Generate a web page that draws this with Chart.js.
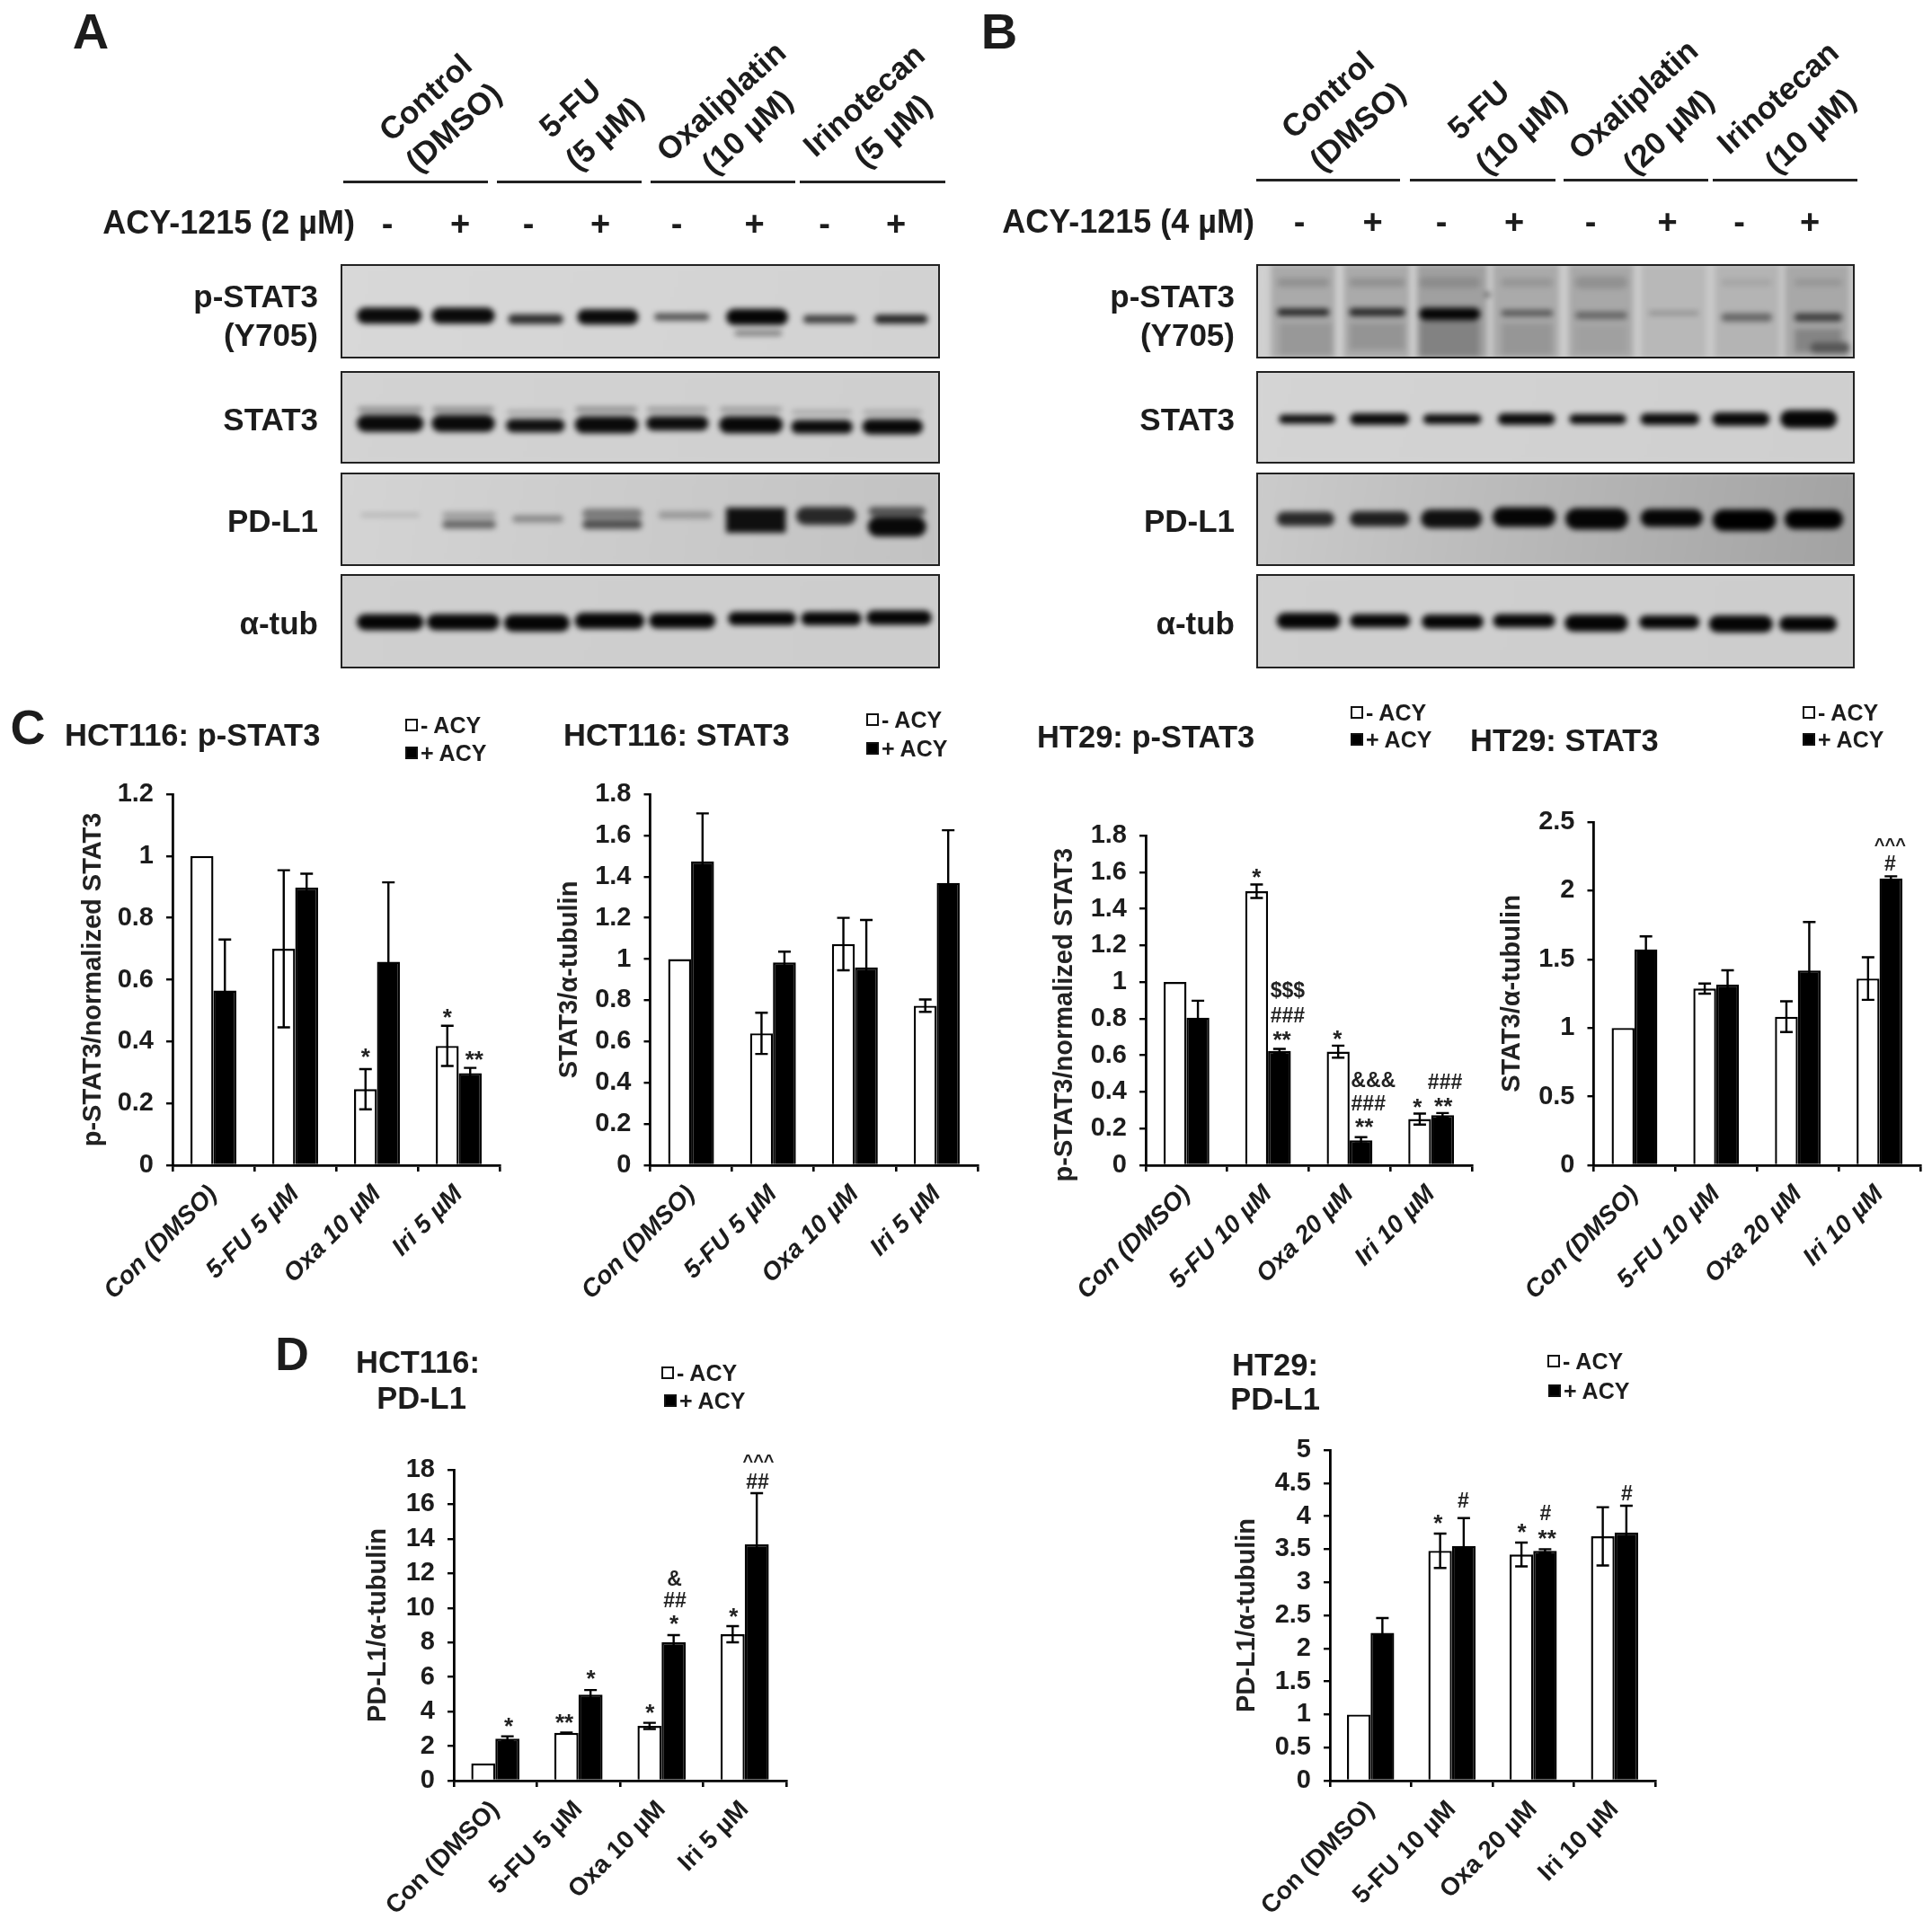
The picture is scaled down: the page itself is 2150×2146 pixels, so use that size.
<!DOCTYPE html>
<html><head><meta charset="utf-8">
<script src="https://cdn.jsdelivr.net/npm/chart.js@4"></script>
<style>
html,body{margin:0;padding:0;background:#fff}
#root{position:relative;width:2150px;height:2146px;overflow:hidden;font-family:"Liberation Sans",Arial,sans-serif;font-weight:bold;color:#1c1c1c;filter:blur(0.55px)}
canvas{position:absolute}
.t{position:absolute;white-space:pre;line-height:1}
.rule{position:absolute;background:#222;height:3px}
.sq{position:absolute;width:14px;height:14px;border:2.5px solid #111;box-sizing:border-box;background:#fff}
.sq.k{background:#000}
.mem{position:absolute;overflow:hidden}
.mem canvas{left:0;top:0;filter:blur(3px)}
.mem i{position:absolute;inset:0;border:2.6px solid #222;display:block}
</style></head><body><div id="root"></div>
<script>
/* ---------- bar chart data ---------- */
const catsC5 = ['Con (DMSO)','5-FU 5 µM','Oxa 10 µM','Iri 5 µM'];
const catsC10 = ['Con (DMSO)','5-FU 10 µM','Oxa 20 µM','Iri 10 µM'];

const c1Minus = [1,0.70,0.246,0.386];   const c1MinusErr = [0,0.254,0.065,0.065];
const c1Plus  = [0.565,0.898,0.658,0.298]; const c1PlusErr = [0.165,0.045,0.257,0.017];
const c1Ann = [[1.86,0.363,'*'],[2.86,0.49,'*'],[3.19,0.354,'**']];

const c2Minus = [1,0.64,1.073,0.774];   const c2MinusErr = [0,0.10,0.127,0.03];
const c2Plus  = [1.474,0.984,0.96,1.37]; const c2PlusErr = [0.233,0.052,0.23,0.255];

const c3Minus = [1,1.496,0.62,0.252];   const c3MinusErr = [0,0.037,0.033,0.03];
const c3Plus  = [0.806,0.624,0.136,0.274]; const c3PlusErr = [0.092,0.011,0.017,0.011];
const c3Ann = [[0.86,1.594,'*'],[1.24,0.957,'$$$'],[1.24,0.821,'###'],[1.17,0.707,'**'],[1.85,0.712,'*'],
  [2.29,0.466,'&&&'],[2.23,0.339,'###'],[2.18,0.23,'**'],[2.83,0.339,'*'],[3.17,0.46,'###'],[3.15,0.344,'**']];

const c4Minus = [1,1.287,1.082,1.36];   const c4MinusErr = [0,0.037,0.112,0.155];
const c4Plus  = [1.573,1.316,1.418,2.09]; const c4PlusErr = [0.094,0.104,0.354,0.015];
const c4Ann = [[3.13,2.35,'^^^'],[3.13,2.2,'#']];

const d1Minus = [1,2.77,3.17,8.48];     const d1MinusErr = [0,0.02,0.18,0.47];
const d1Plus  = [2.43,4.98,8.01,13.68]; const d1PlusErr = [0.14,0.27,0.42,2.97];
const d1Ann = [[0.16,3.37,'*'],[0.83,3.6,'**'],[1.15,6.13,'*'],[1.86,4.14,'*'],[2.155,11.73,'&'],[2.16,10.47,'##'],
  [2.15,9.3,'*'],[2.865,9.74,'*'],[3.165,18.64,'^^^'],[3.155,17.36,'##']];

const d2Minus = [1,3.476,3.42,3.695];   const d2MinusErr = [0,0.26,0.18,0.44];
const d2Plus  = [2.234,3.55,3.476,3.753]; const d2PlusErr = [0.226,0.42,0.024,0.404];
const d2Ann = [[0.83,3.955,'*'],[1.14,4.24,'#'],[1.86,3.82,'*'],[2.15,4.05,'#'],[2.17,3.72,'**'],[3.15,4.36,'#']];

/* ---------- blot bands: [from, to, position, thickness, grey density] on a 1026 x 216 membrane ---------- */
const aPhospho = [[675,755,158,6,125],[30,137,118,18,10],[158,262,118,18,10],[288,380,126,11,45],[407,508,121,17,10],[538,630,121,8,80],[662,764,121,18,5],[793,882,126,9,60],[915,1004,126,10,35]];
const aStat3 = [[30,140,89,6,140],[158,262,89,6,140],[285,382,95,4,155],[403,507,89,6,140],[525,628,89,5,145],[650,755,89,5,145],[773,875,95,4,155],[895,995,95,4,155],
  [30,140,121,19,10],[158,262,121,19,10],[285,382,126,15,15],[403,507,124,19,10],[525,628,121,16,12],[650,755,124,19,8],[773,875,129,15,10],[895,995,129,17,8]];
const aPdl1 = [[35,135,98,4,175],[175,265,98,7,155],[295,380,107,8,135],[415,515,95,11,120],[545,635,98,8,150],[905,1000,90,10,80],[175,265,120,9,100],[415,515,120,10,75],[660,762,110,28,15],[782,880,100,20,40],[905,1000,125,22,8]];
const aTub = [[30,140,110,18,5],[150,270,110,18,5],[282,390,112,19,5],[403,518,107,18,5],[530,640,107,17,5],[665,778,102,15,5],[790,890,102,15,5],[902,1010,100,16,5]];

const bSmear = [[25,135,108,105,170],[150,262,108,105,170],[275,395,108,105,160],[405,518,108,105,170],[535,645,108,105,168],[660,770,108,105,184],[785,895,108,105,180],[905,1015,108,105,168]];
const bPhospho = [[37,124,42,10,145],[160,254,42,10,145],[280,382,42,12,140],[420,507,42,10,150],[547,634,42,14,145],[797,882,42,8,165],[922,1002,42,8,150],
  [280,382,172,40,130],[420,507,172,36,150],[40,130,172,36,152],[160,254,165,30,148],[547,634,172,30,160],[922,1002,175,26,132],[950,1015,192,12,85],
  [37,124,110,8,35],[160,254,110,9,40],[280,382,114,14,5],[420,507,112,7,85],[547,634,117,8,100],[672,757,112,4,135],[797,882,122,9,100],[922,1002,122,9,60],[392,400,70,4,50]];
const bStat3 = [[40,134,111,10,10],[162,260,111,13,10],[287,384,111,11,10],[415,510,111,13,10],[537,632,111,11,10],[659,757,111,13,10],[782,877,111,15,8],[899,992,111,20,5]];
const bPdl1 = [[37,132,107,16,40],[162,260,107,17,30],[284,384,107,21,15],[407,510,103,22,5],[532,634,107,24,5],[660,762,105,20,5],[784,887,110,24,0],[907,1002,108,22,0]];
const bTub = [[37,142,107,18,5],[162,262,107,15,5],[285,387,109,16,5],[407,510,107,15,5],[530,634,112,19,5],[657,757,110,15,5],[777,882,114,19,5],[897,992,114,17,5]];

/* ---------- helpers ---------- */
const root = document.getElementById('root');
const FONT = '"Liberation Sans"';
function text(s,x,y,size,opt={}){
  const d=document.createElement('div');d.className='t';d.textContent=s;
  const a=opt.align||'center';
  const tx=a==='left'?'0':a==='right'?'-100%':'-50%';
  d.style.cssText=`left:${x}px;top:${y}px;font-size:${size}px;transform:translate(${tx},-50%) rotate(${opt.rot||0}deg)`;
  root.appendChild(d);
}
function rule(x0,x1,y){const d=document.createElement('div');d.className='rule';d.style.cssText=`left:${x0}px;width:${x1-x0}px;top:${y-1.5}px`;root.appendChild(d);}
function square(x,y,k,s=14){const d=document.createElement('div');d.className='sq'+(k?' k':'');d.style.cssText=`left:${x}px;top:${y-s/2}px;width:${s}px;height:${s}px`;root.appendChild(d);}

const errorPlugin={id:'errs',afterDatasetsDraw(ch,_,o){
  const ctx=ch.ctx,y=ch.scales.y,x=ch.scales.x;
  ctx.save();ctx.lineWidth=2.4;ctx.strokeStyle='#000';
  ch.data.datasets.forEach((ds,di)=>{
    ch.getDatasetMeta(di).data.forEach((b,i)=>{
      const e=ds.err[i];if(!e)return;
      const v=ds.data[i],hi=y.getPixelForValue(v+e),lo=y.getPixelForValue(v-e);
      ctx.beginPath();ctx.moveTo(b.x,hi);ctx.lineTo(b.x,lo);
      ctx.moveTo(b.x-7,hi);ctx.lineTo(b.x+7,hi);ctx.moveTo(b.x-7,lo);ctx.lineTo(b.x+7,lo);ctx.stroke();
    });
  });
  ctx.fillStyle='#222';
  (o.ann||[]).forEach(([c,v,s])=>{
    ctx.font=`bold ${s[0]==='^'?20:s[0]==='*'?26:23}px ${FONT}`;
    ctx.textAlign='center';ctx.textBaseline='alphabetic';
    const m=ctx.measureText(s);
    ctx.fillText(s,x.getPixelForValue(c),y.getPixelForValue(v)+(m.actualBoundingBoxAscent-m.actualBoundingBoxDescent)/2);
  });
  ctx.restore();
}};

function barChart(cfg){
  const [L,T,R,B]=cfg.plot, ys=29, padT=70, padR=14, xh=190;
  const yw=L-cfg.titleX+ys/2+2;
  const c=document.createElement('canvas');
  const w=Math.round(R-L+yw+padR), h=Math.round(B-T+xh+padT);
  c.width=w;c.height=h;c.style.left=(L-yw)+'px';c.style.top=(T-padT)+'px';
  root.appendChild(c);
  const zero=s=>{s.paddingLeft=s.paddingRight=s.paddingTop=s.paddingBottom=0;};
  new Chart(c,{type:'bar',plugins:[errorPlugin],
    data:{labels:cfg.labels,datasets:[
      {label:'- ACY',data:cfg.minus,err:cfg.minusErr,backgroundColor:'#fff',borderColor:'#000',borderWidth:2.4},
      {label:'+ ACY',data:cfg.plus,err:cfg.plusErr,backgroundColor:'#000',borderColor:'#000',borderWidth:2.4}]},
    options:{responsive:false,animation:false,devicePixelRatio:1,
      layout:{padding:{top:padT,right:padR,left:0,bottom:0}},
      datasets:{bar:{categoryPercentage:cfg.cat,barPercentage:1}},
      plugins:{legend:{display:false},tooltip:{enabled:false},errs:{ann:cfg.ann}},
      scales:{
        x:{grid:{drawOnChartArea:false,color:'#000',lineWidth:2.6,tickLength:7},border:{color:'#000',width:2.8},
           afterFit(s){s.height=xh;zero(s);},
           ticks:{autoSkip:false,minRotation:45,maxRotation:45,color:'#1c1c1c',padding:9,
             font:{family:FONT,weight:'bold',size:28,style:cfg.italic?'italic':'normal'}}},
        y:{min:0,max:cfg.max,grid:{drawOnChartArea:false,color:'#000',lineWidth:2.4,tickLength:7},border:{color:'#000',width:2.8},
           afterFit(s){s.width=yw;zero(s);},
           title:{display:true,text:cfg.yTitle,color:'#222',padding:0,font:{family:FONT,weight:'bold',size:ys,lineHeight:1}},
           ticks:{autoSkip:false,stepSize:cfg.step,color:'#1c1c1c',padding:14,font:{family:FONT,weight:'bold',size:29},
             callback:v=>String(parseFloat(v.toFixed(2)))}}}
    }});
}

const bandPlugin={id:'bands',
  beforeDraw(ch,_,o){const a=ch.chartArea,ctx=ch.ctx,g=ctx.createLinearGradient(a.left,a.top,a.right,a.bottom);
    g.addColorStop(0,o.bg[0]);g.addColorStop(1,o.bg[1]);ctx.fillStyle=g;ctx.fillRect(a.left,a.top,a.right-a.left,a.bottom-a.top);}
};
function blot(x0,y0,x1,y1,bands,bg){
  const wrap=document.createElement('div');wrap.className='mem';
  wrap.style.cssText=`left:${x0}px;top:${y0}px;width:${x1-x0}px;height:${y1-y0}px;background:${bg[0]}`;
  const c=document.createElement('canvas');c.width=Math.round(x1-x0);c.height=Math.round(y1-y0);
  wrap.appendChild(c);wrap.appendChild(document.createElement('i'));root.appendChild(wrap);
  /* round caps add half the line thickness at each end: pull the ends in by that amount (px to membrane units) */
  const unit=1026/(x1-x0);
  /* Chart.js paints the first dataset last, so the list is reversed to keep later bands on top */
  new Chart(c,{type:'scatter',plugins:[bandPlugin],
    data:{datasets:bands.map(([a,b,y,t,g])=>{
      const soft=t>=25, ins=soft?0:t/2*unit*0.85;
      return {data:[{x:a+ins,y},{x:b-ins,y}],showLine:true,borderColor:`rgb(${g},${g},${g})`,borderWidth:t,borderCapStyle:soft?'butt':'round',pointRadius:0,tension:0};
    }).reverse()},
    options:{responsive:false,animation:false,devicePixelRatio:1,layout:{padding:0},
      plugins:{legend:{display:false},tooltip:{enabled:false},bands:{bg}},
      scales:{x:{display:false,min:0,max:1026},y:{display:false,min:0,max:216,reverse:true}}}});
}

/* ---------- panels A and B ---------- */
const rowsY=[[294,399],[412.5,516],[526,630],[639,743.5]];
const ax0=379,ax1=1046,bx0=1397.5,bx1=2064;
blot(ax0,rowsY[0][0],ax1,rowsY[0][1],aPhospho,['#d8d8d8','#d2d2d2']);
blot(ax0,rowsY[1][0],ax1,rowsY[1][1],aStat3,['#d3d3d3','#cfcfcf']);
blot(ax0,rowsY[2][0],ax1,rowsY[2][1],aPdl1,['#d4d4d4','#c2c2c2']);
blot(ax0,rowsY[3][0],ax1,rowsY[3][1],aTub,['#d0d0d0','#cdcdcd']);
blot(bx0,rowsY[0][0],bx1,rowsY[0][1],bSmear.concat(bPhospho),['#d0d0d0','#c8c8c8']);
blot(bx0,rowsY[1][0],bx1,rowsY[1][1],bStat3,['#d4d4d4','#cfcfcf']);
blot(bx0,rowsY[2][0],bx1,rowsY[2][1],bPdl1,['#cbcbcb','#a2a2a2']);
blot(bx0,rowsY[3][0],bx1,rowsY[3][1],bTub,['#d0d0d0','#cdcdcd']);

text('A',101,35,56);text('B',1112,35,56);text('C',31,809,54);text('D',325,1507,52);

[[['Control',473,108],['(DMSO)',504,141],['5-FU',634,120],['(5 µM)',672,148],['Oxaliplatin',802,112],['(10 µM)',831,146],['Irinotecan',961,111],['(5 µM)',993,145]],
 [['Control',1477,105],['(DMSO)',1510,140],['5-FU',1645,122],['(10 µM)',1692,146],['Oxaliplatin',1817,110],['(20 µM)',1856,146],['Irinotecan',1978,108],['(10 µM)',2014,145]]]
 .forEach(g=>g.forEach(([s,x,y])=>text(s,x,y,35,{rot:-42})));

[[382,543],[552.5,714],[724,885],[889.5,1051.5]].forEach(([a,b])=>rule(a,b,202.6));
[[1397.5,1558],[1569,1730.6],[1740,1901],[1906,2067]].forEach(([a,b])=>rule(a,b,200));

text('ACY-1215 (2 µM)',395,248,36,{align:'right'});
text('ACY-1215 (4 µM)',1396,247,36,{align:'right'});
[431,588,753,917.5].forEach(x=>text('-',x,249,38));
[512,668,839.5,997].forEach(x=>text('+',x,249,38));
[1446,1604,1770,1935.6].forEach(x=>text('-',x,247,38));
[1527.6,1685,1855.5,2014].forEach(x=>text('+',x,247,38));
[354,1374].forEach(x=>{
  text('p-STAT3',x,329,35,{align:'right'});text('(Y705)',x,372,35,{align:'right'});
  text('STAT3',x,466,35,{align:'right'});text('PD-L1',x,579,35,{align:'right'});text('α-tub',x,693,35,{align:'right'});
});

/* ---------- panels C and D ---------- */
barChart({plot:[191.5,884,555,1297],titleX:105,max:1.2,step:0.2,labels:catsC5,minus:c1Minus,minusErr:c1MinusErr,plus:c1Plus,plusErr:c1PlusErr,ann:c1Ann,cat:0.56,italic:true,yTitle:'p-STAT3/normalized STAT3'});
barChart({plot:[723,884,1087,1297],titleX:635,max:1.8,step:0.2,labels:catsC5,minus:c2Minus,minusErr:c2MinusErr,plus:c2Plus,plusErr:c2PlusErr,ann:[],cat:0.56,italic:true,yTitle:'STAT3/α-tubulin'});
barChart({plot:[1274.5,930,1637.5,1297],titleX:1186,max:1.8,step:0.2,labels:catsC10,minus:c3Minus,minusErr:c3MinusErr,plus:c3Plus,plusErr:c3PlusErr,ann:c3Ann,cat:0.56,italic:true,yTitle:'p-STAT3/normalized STAT3    '});
barChart({plot:[1773,915,2136,1297],titleX:1684,max:2.5,step:0.5,labels:catsC10,minus:c4Minus,minusErr:c4MinusErr,plus:c4Plus,plusErr:c4PlusErr,ann:c4Ann,cat:0.56,italic:true,yTitle:'STAT3/α-tubulin'});
barChart({plot:[504.5,1636,874.5,1981.5],titleX:422,max:18,step:2,labels:catsC5,minus:d1Minus,minusErr:d1MinusErr,plus:d1Plus,plusErr:d1PlusErr,ann:d1Ann,cat:0.58,italic:false,yTitle:'PD-L1/α-tubulin'});
barChart({plot:[1479.5,1614,1841.5,1982],titleX:1389,max:5,step:0.5,labels:catsC10,minus:d2Minus,minusErr:d2MinusErr,plus:d2Plus,plusErr:d2PlusErr,ann:d2Ann,cat:0.58,italic:false,yTitle:'PD-L1/α-tubulin'});

text('HCT116: p-STAT3',72,818,34.5,{align:'left'});
text('HCT116: STAT3',627,818,34.5,{align:'left'});
text('HT29: p-STAT3',1154,820,34.5,{align:'left'});
text('HT29: STAT3',1636,824,34.5,{align:'left'});
text('HCT116:',465,1516,34.5);text('PD-L1',469,1556,34.5);
text('HT29:',1419,1519,34.5);text('PD-L1',1419,1557,34.5);

[[451,807,838],[964,801,833],[1503,793,823],[2006,793,823]].forEach(([x,y1,y2])=>{
  square(x,y1,false);text('- ACY',x+17,y1,25,{align:'left'});
  square(x,y2,true);text('+ ACY',x+17,y2,25,{align:'left'});
});
[[736,1528,739,1559],[1722,1515,1723,1548]].forEach(([x,y1,x2,y2])=>{
  square(x,y1,false);text('- ACY',x+17,y1,25,{align:'left'});
  square(x2,y2,true);text('+ ACY',x2+17,y2,25,{align:'left'});
});
</script></body></html>
